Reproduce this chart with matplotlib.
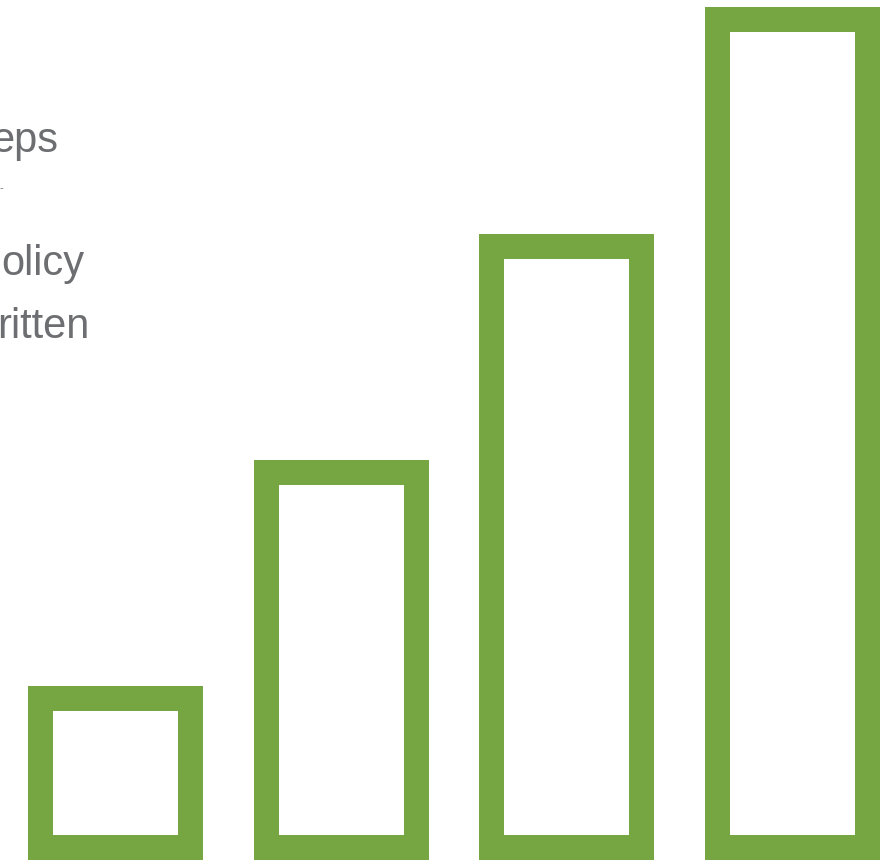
import matplotlib.pyplot as plt
from matplotlib.patches import Rectangle

# four step bars (relative heights), cropped label text at left
categories = ['1', '2', '3', '4']
values = [1.0, 2.3, 3.6, 4.9]
labels = ['eps', 'olicy', 'ritten']

green = '#76a642'
grey = '#6d6e71'

fig = plt.figure(figsize=(8.91, 8.6), dpi=100)
ax = fig.add_axes([0, 0, 1, 1])

# pixel scale: 225.67 px per category step, 174 px per value unit
px_x = 225.67
px_y = 174.0
ax.set_xlim(-115.5 / px_x, (891 - 115.5) / px_x)
ax.set_ylim(0, 860 / px_y)
ax.axis('off')

width = 175 / px_x
tx = 25 / px_x
ty = 25 / px_y
for i, v in enumerate(values):
    x0 = i - width / 2
    ax.add_patch(Rectangle((x0, 0), width, v, facecolor=green, edgecolor='none'))
    ax.add_patch(Rectangle((x0 + tx, ty), width - 2 * tx, v - 2 * ty,
                           facecolor='white', edgecolor='none'))

# text lines, left part cut off by the figure edge
fs = 30
fig.text(58 / 891, 1 - 152 / 860, labels[0], ha='right', va='baseline',
         color=grey, fontsize=fs, family='Liberation Sans')
fig.text(3 / 891, 1 - 191 / 860, '-', ha='right', va='baseline',
         color=grey, fontsize=8, family='Liberation Sans')
fig.text(84 / 891, 1 - 275 / 860, labels[1], ha='right', va='baseline',
         color=grey, fontsize=fs, family='Liberation Sans')
fig.text(90 / 891, 1 - 338 / 860, labels[2], ha='right', va='baseline',
         color=grey, fontsize=fs, family='Liberation Sans')

fig.savefig('out.png', dpi=100)
